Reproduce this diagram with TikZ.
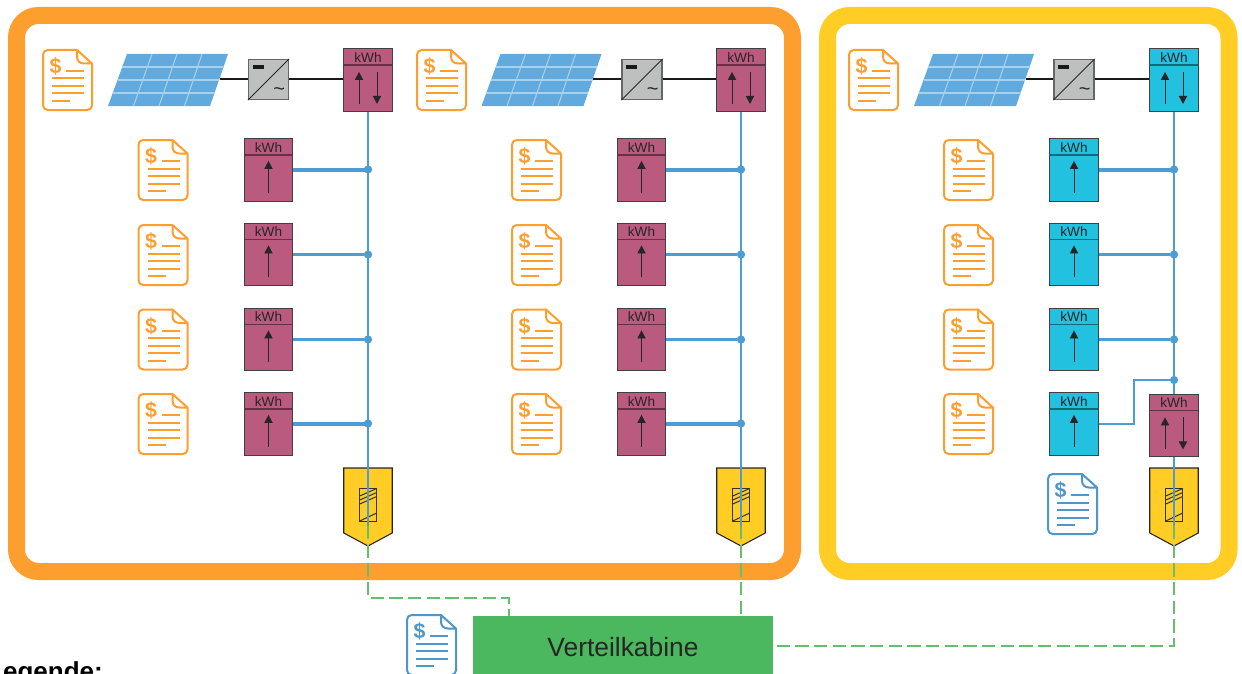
\documentclass[tikz,border=0pt]{standalone}
\usepackage{fontspec}
\setmainfont{Liberation Sans}
\usetikzlibrary{arrows.meta,calc}
\definecolor{cOrange}{HTML}{FC9F2E}
\definecolor{cYellow}{HTML}{FFCD24}
\definecolor{cMag}{HTML}{BA5A7F}
\definecolor{cCyan}{HTML}{22C1DF}
\definecolor{cGreen}{HTML}{4BB85F}
\definecolor{cDash}{HTML}{66BE6E}
\definecolor{cWire}{HTML}{4C9CD6}
\definecolor{cDocB}{HTML}{4F97CB}
\definecolor{cPanel}{HTML}{62A9DD}
\definecolor{cGrid}{HTML}{A8D1EE}
\definecolor{cInv}{HTML}{BEC0BF}
\tikzset{
  x=0.75pt,y=-0.75pt,
  frame/.style={line width=12.75pt,rounded corners=16.5pt},
  wire/.style={cWire,line width=1.6pt},
  wirefat/.style={cWire,line width=2.6pt},
  power/.style={black!90,line width=1.5pt},
  dataline/.style={cDash,line width=1.3pt,dash pattern=on 10pt off 4pt},
  dot/.style={circle,fill=cWire,inner sep=0pt,minimum size=6.2pt},
  meterbox/.style={draw=black!75,line width=0.9pt,inner sep=0pt,minimum width=36.2pt,minimum height=47pt},
  metertext/.style={inner sep=0pt,font=\fontsize{10.2pt}{11pt}\selectfont,text=black!85},
  arr/.style={black!85,line width=0.65pt,-{Triangle[length=6pt,width=6.2pt]}},
}
% doc icon: name, x, y (top left), colour
\newcommand\docicon[4]{%
  \begin{scope}[shift={(#2,#3)},#4,line width=1.5pt]
    \node[inner sep=0pt,minimum width=36.75pt,minimum height=45pt] (#1) at (24.5,30) {};
    \draw[rounded corners=3.5pt] (34,0) -- (0,0) -- (0,60) -- (49,60) -- (49,13.5);
    \draw[line join=round] (34,0) -- (49,13.5) -- (41,13.5) .. controls (37,13.5) and (34,11) .. (34,7) -- cycle;
    \node[inner sep=0pt,text=#4,font=\fontsize{16pt}{16pt}\selectfont\bfseries] (#1-d) at (12.5,16.5) {\$};
    \draw[line width=1.5pt] (23,21) -- (41,21);
    \draw[line width=1.5pt] (9,28.5) -- (41,28.5);
    \draw[line width=1.5pt] (9,36) -- (41,36);
    \draw[line width=1.5pt] (9,43.5) -- (41,43.5);
    \draw[line width=1.5pt] (9,51) -- (27,51);
  \end{scope}}
% meter one way
\newcommand\meterup[4]{%
  \node[meterbox,fill=#4] (#1) at (#2,#3) {};
  \draw[#4!55!black,line width=0.9pt] (#1.north west) ++(0,17) -- ++(48.3,0);
  \node[metertext] (#1-t) at ($(#1.north)+(0,9.5)$) {kWh};
  \draw[arr] ($(#1.south)+(0,-9)$) -- ($(#1.south)+(0,-41)$);}
\newcommand\meterboth[4]{%
  \node[meterbox,fill=#4] (#1) at (#2,#3) {};
  \draw[#4!55!black,line width=0.9pt] (#1.north west) ++(0,17) -- ++(48.3,0);
  \node[metertext] (#1-t) at ($(#1.north)+(0,9.5)$) {kWh};
  \draw[arr] ($(#1.south)+(-9,-8)$) -- ($(#1.south)+(-9,-40)$);
  \draw[arr] ($(#1.south)+(9,-40)$) -- ($(#1.south)+(9,-8)$);}
% panel: name, x, y
\newcommand\solar[3]{%
  \begin{scope}[shift={(#2,#3)}]
    \fill[cPanel] (19,0) -- (120,0) -- (102,52) -- (0,52) -- cycle;
    \foreach \i in {1,2,3}{
      \draw[cGrid,line width=0.8pt] ({19+25*\i},0) -- ({25.5*\i},52);
      \draw[cGrid,line width=0.8pt] ({19-19*\i/4},{13*\i}) -- ({120-18*\i/4},{13*\i});
    }
    \node[inner sep=0pt,minimum size=1pt] (#1) at (111,25.5) {};
  \end{scope}}
% inverter
\newcommand\inverter[3]{%
  \node[draw=black!60,fill=cInv,line width=0.9pt,inner sep=0pt,minimum size=30pt] (#1) at (#2,#3) {};
  \draw[black!85,line width=0.7pt] (#1.south west) -- (#1.north east);
  \fill[black!90] ($(#1.north west)+(5,6)$) rectangle ++(11,4);
  \node[inner sep=0pt,text=black!85,font=\fontsize{15pt}{15pt}\selectfont] (#1-s) at ($(#1.south east)+(-10,-9)$) {\textasciitilde};}
% battery cabinet
\newcommand\cabinet[3]{%
  \begin{scope}[shift={(#2,#3)}]
    \draw[fill=cYellow,draw=black!85,line width=0.8pt] (0,0) -- (48.5,0) -- (48.5,65) -- (24.25,78) -- (0,65) -- cycle;
    \draw[black!80,line width=0.75pt] (16,20) rectangle (33,53);
    \draw[black!80,line width=0.75pt] (16,28) -- (33,20.5) (16,32) -- (33,24.5) (16,36) -- (33,28.5) (16,53) -- (33,45);
    \coordinate (#1) at (24.25,58);
    \coordinate (#1-top) at (24.25,0);
  \end{scope}}
\begin{document}
\begin{tikzpicture}
\useasboundingbox (0,0) rectangle (1242,674);
\fill[white] (0,0) rectangle (1242,674);
\draw[frame,cOrange] (16.5,15.5) rectangle (792.5,571.5);
\draw[frame,cYellow] (827.5,15.5) rectangle (1229,571.5);

% group 1
\docicon{da}{43}{50}{cOrange}
\solar{pa}{108}{54}
\inverter{ia}{268.5}{79.5}
\meterboth{ma}{368}{80}{cMag}
\docicon{da1}{138.5}{140}{cOrange}
\docicon{da2}{138.5}{225}{cOrange}
\docicon{da3}{138.5}{309.5}{cOrange}
\docicon{da4}{138.5}{394}{cOrange}
\meterup{ma1}{268.5}{170}{cMag}
\meterup{ma2}{268.5}{254.5}{cMag}
\meterup{ma3}{268.5}{339.5}{cMag}
\meterup{ma4}{268.5}{424}{cMag}
\cabinet{ca}{343.75}{468}
% group 2
\docicon{db}{417}{50}{cOrange}
\solar{pb}{481.5}{54}
\inverter{ib}{642}{79.5}
\meterboth{mb}{741}{80}{cMag}
\docicon{db1}{512}{140}{cOrange}
\docicon{db2}{512}{225}{cOrange}
\docicon{db3}{512}{309.5}{cOrange}
\docicon{db4}{512}{394}{cOrange}
\meterup{mb1}{641.5}{170}{cMag}
\meterup{mb2}{641.5}{254.5}{cMag}
\meterup{mb3}{641.5}{339.5}{cMag}
\meterup{mb4}{641.5}{424}{cMag}
\cabinet{cb}{716.75}{468}
% group 3
\docicon{dc}{849}{50}{cOrange}
\solar{pc}{914}{54}
\inverter{ic}{1074}{79.5}
\meterboth{mc}{1174}{80}{cCyan}
\docicon{dc1}{944}{140}{cOrange}
\docicon{dc2}{944}{225}{cOrange}
\docicon{dc3}{944}{309.5}{cOrange}
\docicon{dc4}{944}{394}{cOrange}
\meterup{mc1}{1074}{170}{cCyan}
\meterup{mc2}{1074}{254.5}{cCyan}
\meterup{mc3}{1074}{339.5}{cCyan}
\meterup{mc4}{1074}{424}{cCyan}
\meterboth{md}{1174}{425.5}{cMag}
\docicon{dd}{1048}{474}{cDocB}
\cabinet{cc}{1149.75}{468}
\docicon{de}{407}{615}{cDocB}

% green cabin
\node[fill=cGreen,inner sep=0pt,minimum width=225pt,minimum height=52.5pt] (vk) at (623,651) {};
\node[inner sep=0pt,font=\fontsize{19.8pt}{22pt}\selectfont,text=black!85] (vkt) at (623,647) {Verteilkabine};
\node[anchor=base west,inner sep=0pt,font=\bfseries\fontsize{19.5pt}{22pt}\selectfont] (leg) at (-13,680) {Legende:};

% power lines
\draw[power] (pa) -- (ia);
\draw[power] (ia) -- (ia-|ma.west);
\draw[power] (pb) -- (ib);
\draw[power] (ib) -- (ib-|mb.west);
\draw[power] (pc) -- (ic);
\draw[power] (ic) -- (ic-|mc.west);

% junctions
\foreach \g/\x in {a/368,b/741,c/1174}{
  \node[dot] (j\g1) at (\x,169.5) {};
  \node[dot] (j\g2) at (\x,254.5) {};
  \node[dot] (j\g3) at (\x,339.5) {};
}
\node[dot] (ja4) at (368,423.5) {};
\node[dot] (jb4) at (741,423.5) {};
\node[dot] (jc4) at (1174,380) {};

% wires
\draw[wire] (ma.south) -- (ca);
\draw[wire] (mb.south) -- (cb);
\draw[wire] (mc.south) -- (md.north);
\draw[wire] (md.south) -- (cc);
\draw[wirefat] (ma1.east) -- (ma1.east-|ja1);
\draw[wire] (ma2.east) -- (ja2);
\draw[wire] (ma3.east) -- (ja3);
\draw[wirefat] (ma4.east) -- (ma4.east-|ja4);
\draw[wirefat] (mb1.east) -- (mb1.east-|jb1);
\draw[wire] (mb2.east) -- (jb2);
\draw[wire] (mb3.east) -- (jb3);
\draw[wirefat] (mb4.east) -- (mb4.east-|jb4);
\draw[wirefat] (mc1.east) -- (mc1.east-|jc1);
\draw[wire] (mc2.east) -- (jc2);
\draw[wire] (mc3.east) -- (jc3);
\draw[wire,line width=1.4pt] (mc4.east) -- (1134,424) -- (1134,380) -- (jc4);

% data lines
\coordinate (kA) at (368,598);
\coordinate (kB) at (509,598);
\draw[dataline] (ca) -- (kA) -- (kB) -- (kB|-vk.north);
\draw[dataline] (cb) -- (cb|-vk.north);
\coordinate (kC) at (1174,646);
\draw[dataline] (cc) -- (kC) -- (kC-|vk.east);
\end{tikzpicture}
\end{document}
